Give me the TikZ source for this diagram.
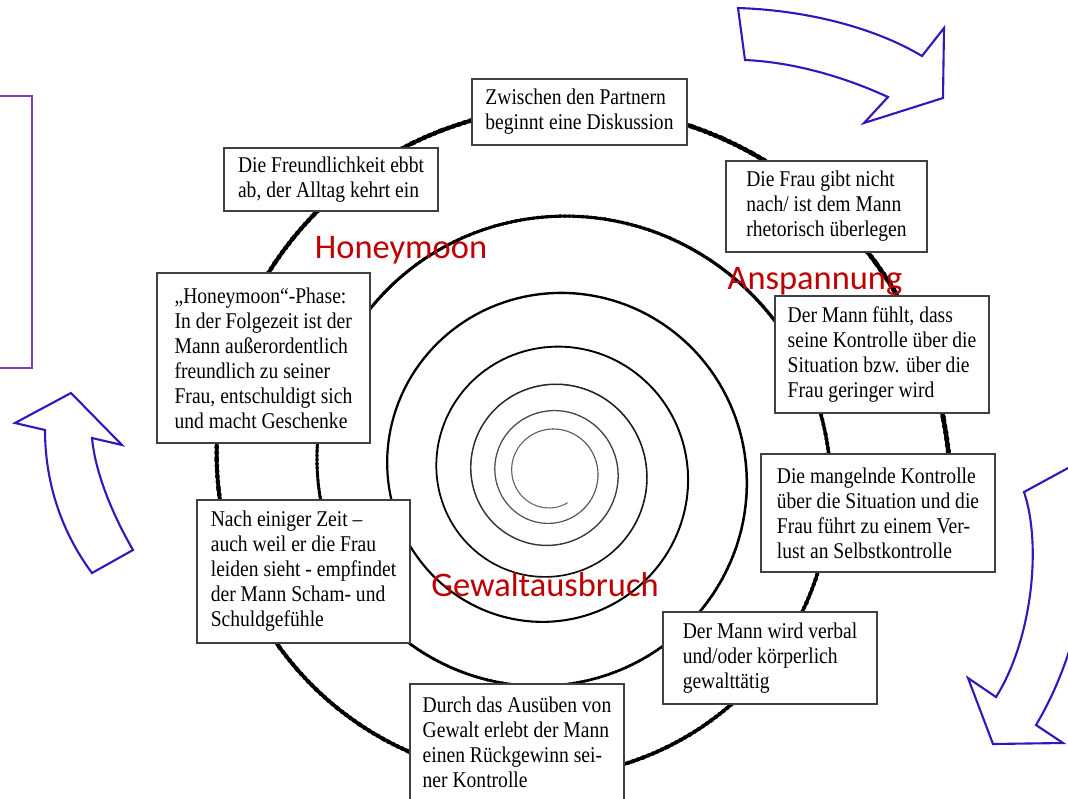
\documentclass[tikz,border=0pt]{standalone}
\usepackage{fontspec}
\setmainfont{Liberation Serif}
\newfontfamily\boxfont[FakeStretch=0.87]{Liberation Serif}
\newfontfamily\phasefont{Carlito}
\definecolor{phasered}{RGB}{192,0,0}
\definecolor{arrowblue}{RGB}{55,20,190}
\definecolor{framepurple}{RGB}{125,65,185}
\newcommand{\pxu}{0.025cm}

\begin{document}
\begin{tikzpicture}[
  x=0.025cm, y=-0.025cm,
  textbox/.style 2 args={draw=black!75, line width=0.9pt, fill=white, align=left,
    inner xsep=6pt, minimum width=#1*\pxu, minimum height=#2*\pxu,
    font=\boxfont\fontsize{16}{17.8}\selectfont},
  phase/.style={text=phasered, inner sep=0pt, font=\phasefont\fontsize{24.5}{28}\selectfont},
  bigarrow/.style={draw=arrowblue, line width=1.5pt, line join=miter}
]
\useasboundingbox (0,0) rectangle (1068,798);

% Frame at the left edge and the three turning arrows
\draw[framepurple, line width=1pt] (-100,96) rectangle (32,368);
\draw[bigarrow] (738,8) .. controls (800,10) and (870,25) .. (922,56) -- (944,28) -- (943,98)
  -- (864,123) -- (888,97) .. controls (840,75) and (790,62) .. (745,60) -- cycle;
\draw[bigarrow] (92,573) -- (133,550) .. controls (110,510) and (95,470) .. (92,438)
  -- (122,445) -- (71,393) -- (15,423) -- (45,430) .. controls (45,480) and (60,530) .. (92,573) -- cycle;
\draw[bigarrow] (1024,492) .. controls (1042,545) and (1032,640) .. (996,697) -- (968,678)
  -- (993,744) -- (1063,743) -- (1036,725) .. controls (1075,660) and (1090,580) .. (1092,520)
  -- (1092,455) -- cycle;

% Spiral, coiling inwards
\foreach \a in {-12,-7,...,2455} {
  \pgfmathsetmacro\b{\a+5}
  \pgfmathsetmacro\r{399*0.7^(\a/360)}
  \pgfmathsetmacro\lw{0.5+2.6*\r/400}
  \pgfmathsetmacro\w{1.25*\lw}
  \pgfmathsetmacro\gap{1.15*\w}
  \pgfmathtruncatemacro\shade{min(100,42+\r/2)}
  \draw[black!\shade, line width=\lw pt, line cap=round]
    plot[domain=\a:\b, samples=3] ({551+399*0.7^(\x/360)*cos(\x)}, {472-399*0.7^(\x/360)*sin(\x)});
  \ifdim\r pt>200pt
    \draw[black, line width=\w pt, line cap=round, dash pattern=on 0pt off \gap pt]
      plot[domain=\a:\b, samples=3] ({551+399*0.7^(\x/360)*cos(\x)}, {472-399*0.7^(\x/360)*sin(\x)});
  \fi
}

% Phase names
\node[phase] (honey) at (401,250) {Honeymoon};
\node[phase] (anspannung) at (815,281) {Anspannung};
\node[phase] (ausbruch) at (545,585) {Gewaltausbruch};

% Boxes round the cycle
\node[textbox={215}{66}] (diskussion) at (579.5,112) {Zwischen den Partnern\\beginnt eine Diskussion};
\node[textbox={201}{91}] (frau) at (826.5,206.5) {Die Frau gibt nicht\\nach/ ist dem Mann\\rhetorisch überlegen};
\node[textbox={214}{117}] (kontrolle) at (882,354.5) {Der Mann fühlt, dass\\seine Kontrolle über die\\Situation bzw. über die\\Frau geringer wird};
\node[textbox={234}{118}] (verlust) at (878,513) {Die mangelnde Kontrolle\\über die Situation und die\\Frau führt zu einem Ver-\\lust an Selbstkontrolle};
\node[textbox={214}{92}] (gewalt) at (770,658) {Der Mann wird verbal\\und/oder körperlich\\gewalttätig};
\node[textbox={214}{117}] (rueckgewinn) at (517,742.5) {Durch das Ausüben von\\Gewalt erlebt der Mann\\einen Rückgewinn sei-\\ner Kontrolle};
\node[textbox={213}{143}] (scham) at (303.5,571.5) {Nach einiger Zeit –\\auch weil er die Frau\\leiden sieht - empfindet\\der Mann Scham- und\\Schuldgefühle};
\node[textbox={213}{170}] (honeyphase) at (263.5,358) {„Honeymoon“-Phase:\\In der Folgezeit ist der\\Mann außerordentlich\\freundlich zu seiner\\Frau, entschuldigt sich\\und macht Geschenke};
\node[textbox={214}{63}] (alltag) at (331,179.5) {Die Freundlichkeit ebbt\\ab, der Alltag kehrt ein};
\end{tikzpicture}
\end{document}
